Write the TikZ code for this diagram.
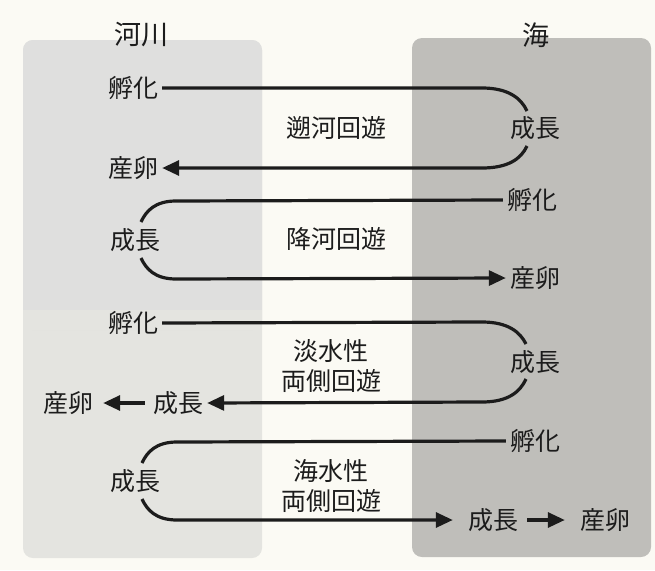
\documentclass[tikz,border=0pt]{standalone}
\usepackage{fontspec}
\newfontfamily\jp{Noto Sans CJK JP}
\usetikzlibrary{arrows.meta}
\definecolor{bgc}{HTML}{FBFAF4}
\definecolor{riverc}{HTML}{E4E4E0}
\definecolor{rivertop}{HTML}{DFDFDE}
\definecolor{seac}{HTML}{BFBEBA}
\definecolor{inkc}{HTML}{1C1C1C}
\begin{document}
\begin{tikzpicture}[x=1pt,y=-1pt,
  font=\jp\fontsize{25}{28}\selectfont,
  lbl/.style={inner xsep=4pt, inner ysep=2pt, text=inkc},
  head/.style={inner sep=0pt, text=inkc, font=\jp\fontsize{27}{30}\selectfont},
  mid/.style={inner sep=0pt, text=inkc, align=center, font=\jp\fontsize{25}{30}\selectfont},
  flow/.style={line width=3.2pt, draw=inkc},
  tip/.style={-{Triangle[length=17pt,width=15pt]}}]
\useasboundingbox (0,0) rectangle (655,570);
\fill[bgc] (0,0) rectangle (655,570);
% panels
\fill[riverc, rounded corners=10pt] (23,40) rectangle (262,558);
\fill[rivertop, rounded corners=10pt] (23,40) rectangle (262,330);
\fill[riverc] (23,310) rectangle (262,330);
\fill[seac, rounded corners=10pt] (412,38) rectangle (651,557);
% headers
\node[head] (river) at (141,35) {河川};
\node[head] (sea) at (536,35) {海};
% row 1
\node[lbl] (h1) at (133,88) {孵化};
\node[lbl] (g1) at (535,128) {成長};
\node[lbl] (s1) at (133,168) {産卵};
\node[mid] (m1) at (336,128) {遡河回遊};
\coordinate (a1) at (482,88);
\coordinate (b1) at (527,111);
\coordinate (c1) at (527,146);
\coordinate (d1) at (482,168);
\draw[flow] (h1.east) -- (a1) .. controls (508,88) and (521,98) .. (b1);
\draw[flow,tip] (c1) .. controls (521,159) and (508,168) .. (d1) -- (s1.east);
% row 2
\node[lbl] (h2) at (532,200) {孵化};
\node[lbl] (g2) at (135,240) {成長};
\node[lbl] (s2) at (535,278) {産卵};
\node[mid] (m2) at (336,239) {降河回遊};
\coordinate (a2) at (176,201);
\coordinate (b2) at (141,222);
\coordinate (c2) at (141,258);
\coordinate (d2) at (176,279);
\draw[flow] (h2.west) -- (a2) .. controls (155,201) and (146,211) .. (b2);
\draw[flow,tip] (c2) .. controls (146,269) and (155,279) .. (d2) -- (s2.west);
% row 3
\node[lbl] (h3) at (133,323) {孵化};
\node[lbl] (g3) at (535,362) {成長};
\node[lbl] (g3b) at (178,403) {成長};
\node[lbl] (s3) at (68,403) {産卵};
\node[mid] (m3) at (331,366) {淡水性\\両側回遊};
\coordinate (a3) at (482,322);
\coordinate (b3) at (526,344);
\coordinate (c3) at (526,379);
\coordinate (d3) at (482,402);
\draw[flow] (h3.east) -- (a3) .. controls (508,322) and (520,332) .. (b3);
\draw[flow,tip] (c3) .. controls (520,392) and (508,402) .. (d3) -- (g3b.east);
\draw[flow,tip,shorten <=4pt,shorten >=6pt] (g3b.west) -- (s3.east);
% row 4
\node[lbl] (h4) at (535,441) {孵化};
\node[lbl] (g4) at (135,481) {成長};
\node[lbl] (g4b) at (493,520) {成長};
\node[lbl] (s4) at (605,520) {産卵};
\node[mid] (m4) at (331,486) {海水性\\両側回遊};
\coordinate (a4) at (177,442);
\coordinate (b4) at (142,463);
\coordinate (c4) at (142,499);
\coordinate (d4) at (177,520);
\draw[flow] (h4.west) -- (a4) .. controls (156,442) and (147,452) .. (b4);
\draw[flow,tip,shorten >=11pt] (c4) .. controls (147,510) and (156,520) .. (d4) -- (g4b.west);
\draw[flow,tip,shorten <=5pt,shorten >=11pt] (g4b.east) -- (s4.west);
\end{tikzpicture}
\end{document}
